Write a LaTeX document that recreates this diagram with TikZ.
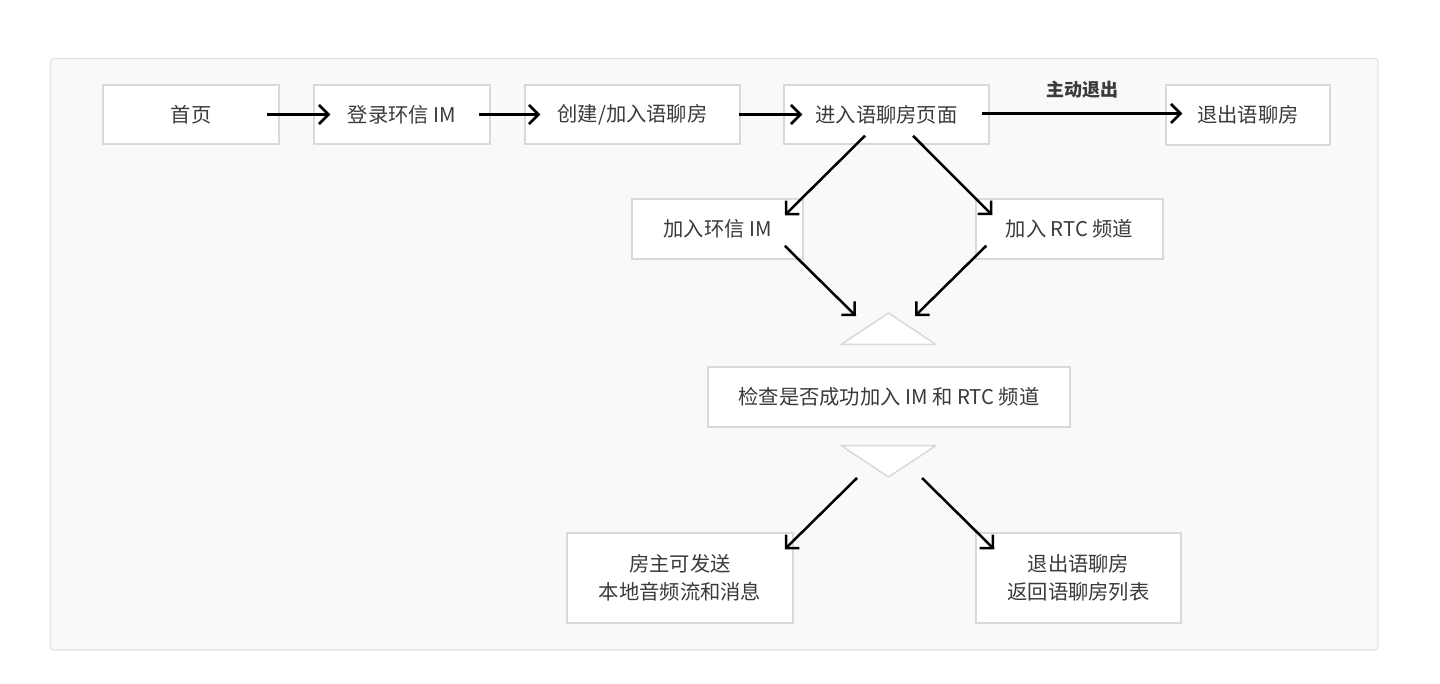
\documentclass[tikz,border=0pt]{standalone}
\usepackage{fontspec}
\setmainfont{Noto Sans CJK SC}
\usetikzlibrary{arrows.meta,calc}
\definecolor{panelfill}{HTML}{F9F9F9}
\definecolor{panelline}{HTML}{E3E3E3}
\definecolor{boxline}{HTML}{D9D9D9}
\definecolor{txt}{HTML}{3A3A3A}
\tikzset{
  flowbox/.style={draw=boxline, line width=1.5pt, fill=white, inner sep=0pt,
    font=\fontsize{20.3pt}{28pt}\selectfont, text=txt, align=center},
  flowarrow/.style={draw=black, line width=2.5pt,
    -{Straight Barb[length=9.5pt,width=19pt,line width=2.5pt]}},
  tri/.style={draw=boxline, line width=1.5pt, fill=white, line join=round}
}
\begin{document}
\begin{tikzpicture}[x=1pt,y=-1pt]
\useasboundingbox (0,0) rectangle (1440,684);
\fill[white] (0,0) rectangle (1440,684);
\draw[panelline, fill=panelfill, line width=1.2pt, rounded corners=3pt] (50.5,58.5) rectangle (1378,650);

\node[flowbox, minimum width=176pt, minimum height=59pt] (home) at (191,114.5) {首页};
\node[flowbox, minimum width=176pt, minimum height=59pt] (login) at (402,114.5) {登录环信 IM};
\node[flowbox, minimum width=215pt, minimum height=59pt] (create) at (632.5,114.5) {创建/加入语聊房};
\node[flowbox, minimum width=205pt, minimum height=59pt] (enter) at (886.5,114.5) {进入语聊房页面};
\node[flowbox, minimum width=164pt, minimum height=60pt] (exit) at (1248,115) {退出语聊房};
\node[flowbox, minimum width=171pt, minimum height=60pt] (joinim) at (717.5,229) {加入环信 IM};
\node[flowbox, minimum width=187pt, minimum height=60pt] (joinrtc) at (1069.5,229) {加入 RTC 频道};
\node[flowbox, minimum width=362pt, minimum height=60pt] (check) at (889,397) {检查是否成功加入 IM 和 RTC 频道};
\node[flowbox, minimum width=226pt, minimum height=90pt] (host) at (680,578) {房主可发送\\本地音频流和消息};
\node[flowbox, minimum width=205pt, minimum height=90pt] (leave) at (1078.5,578) {退出语聊房\\返回语聊房列表};

\node[font=\bfseries\fontsize{18pt}{22pt}\selectfont, text=txt] (quit) at (1082,90) {主动退出};

% triangles
\coordinate (tup) at (888.5,313);
\coordinate (tdown) at (888.5,477);
\draw[tri] (tup) -- ($(tup)+(47.5,31.5)$) -- ($(tup)+(-47.5,31.5)$) -- cycle;
\draw[tri] (tdown) -- ($(tdown)+(47.5,-31.5)$) -- ($(tdown)+(-47.5,-31.5)$) -- cycle;

% horizontal arrows
\draw[flowarrow] ($(home.east)+(-13,0)$) -- ($(login.west)+(17,0)$);
\draw[flowarrow] ($(login.east)+(-12,0)$) -- ($(create.west)+(16,0)$);
\draw[flowarrow] ($(create.east)+(-2,0)$) -- ($(enter.west)+(19,0)$);
\draw[flowarrow] ($(enter.east)+(-8,-1)$) -- ($(exit.west)+(17,-1.5)$);

% diagonal arrows
\draw[flowarrow] ($(enter.south)+(-21.5,-9)$) -- ($(joinim.north east)+(-19,17)$);
\draw[flowarrow] ($(enter.south)+(26.5,-9)$) -- ($(joinrtc.north west)+(17,17)$);
\draw[flowarrow] ($(joinim.south east)+(-19,-14)$) -- ($(tup)+(-32.5,3)$);
\draw[flowarrow] ($(joinrtc.south west)+(11,-14)$) -- ($(tup)+(26.5,3)$);
\draw[flowarrow] ($(tdown)+(-31.5,1)$) -- ($(host.north east)+(-9,17)$);
\draw[flowarrow] ($(tdown)+(33.5,1)$) -- ($(leave.north west)+(19,17)$);
\end{tikzpicture}
\end{document}
